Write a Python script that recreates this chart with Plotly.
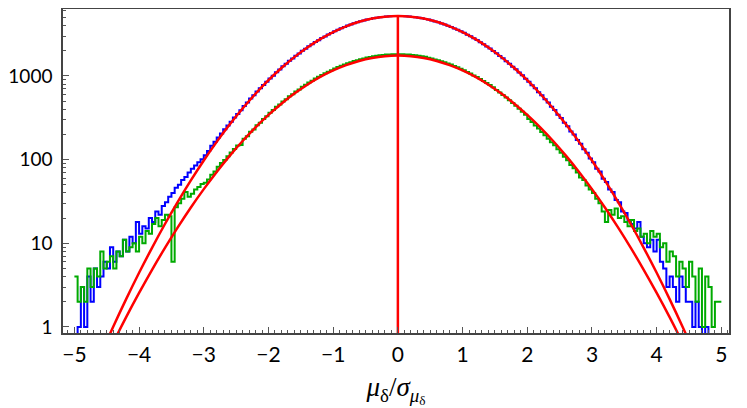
# Histogram of mu_delta / sigma_mu_delta for two samples, log y, with Gaussian fits

import numpy as np
import plotly.graph_objects as go

# %% Data
# histogram bins: 200 bins of width 0.05 from -5 to 5 (left edges)
bin_start = -5.0
bin_width = 0.05

blue_counts = [
    0, 1, 3, 1, 4, 2, 5, 3, 4, 6,
    5, 9, 6, 8, 7, 11, 8, 12, 10, 18,
    13, 16, 15, 20, 18, 24, 22, 28, 31, 36,
    40, 46, 50, 57, 62, 70, 78, 85, 93, 101,
    113, 127, 146, 163, 184, 205, 230, 256, 284, 318,
    352, 390, 436, 481, 536, 588, 650, 712, 780, 855,
    935, 1008, 1110, 1190, 1302, 1395, 1515, 1618, 1746, 1860,
    1995, 2118, 2265, 2390, 2545, 2676, 2835, 2968, 3130, 3262,
    3425, 3558, 3716, 3846, 3998, 4118, 4262, 4371, 4503, 4598,
    4715, 4796, 4895, 4958, 5040, 5080, 5138, 5158, 5195, 5206,
    5194, 5203, 5158, 5138, 5079, 5036, 4957, 4893, 4796, 4712,
    4610, 4488, 4384, 4247, 4130, 3984, 3857, 3701, 3570, 3410,
    3275, 3114, 2980, 2819, 2687, 2530, 2400, 2250, 2127, 1983,
    1868, 1733, 1626, 1500, 1403, 1288, 1199, 1096, 1017, 923,
    854, 772, 712, 640, 588, 525, 482, 427, 391, 344,
    314, 275, 251, 217, 199, 171, 155, 133, 121, 103,
    93, 78, 72, 59, 54, 44, 41, 33, 31, 24,
    23, 19, 17, 15, 18, 12, 10, 9, 11, 8,
    11, 6, 5, 3, 4, 3, 2, 4, 3, 2,
    2, 1, 2, 1, 0, 1, 0, 0, 0, 0,
]

green_counts = [
    4, 2, 3, 2, 5, 3, 5, 4, 8, 5,
    6, 7, 5, 8, 7, 11, 8, 9, 10, 8,
    12, 10, 14, 13, 17, 20, 16, 19, 22, 21,
    6, 27, 30, 34, 41, 36, 39, 44, 47, 51,
    53, 58, 66, 72, 82, 91, 99, 110, 122, 134,
    147, 150, 178, 190, 216, 229, 258, 275, 306, 330,
    362, 392, 428, 456, 495, 528, 570, 606, 650, 690,
    742, 785, 836, 878, 930, 975, 1028, 1074, 1126, 1172,
    1230, 1275, 1328, 1370, 1418, 1460, 1506, 1542, 1585, 1617,
    1662, 1688, 1722, 1740, 1768, 1780, 1802, 1806, 1818, 1820,
    1816, 1822, 1804, 1800, 1776, 1770, 1742, 1722, 1690, 1655,
    1612, 1572, 1540, 1494, 1458, 1408, 1368, 1318, 1272, 1222,
    1166, 1112, 1068, 1014, 968, 918, 872, 825, 778, 734,
    678, 634, 590, 553, 512, 476, 440, 406, 374, 344,
    306, 282, 256, 236, 214, 196, 178, 161, 148, 133,
    121, 108, 98, 86, 79, 70, 61, 57, 49, 44,
    40, 34, 30, 24, 18, 25, 22, 26, 20, 21,
    18, 16, 19, 14, 15, 12, 13, 10, 14, 12,
    13, 9, 10, 6, 8, 7, 4, 6, 5, 3,
    6, 4, 2, 5, 1, 4, 3, 1, 2, 2,
]

# gaussian fits
fit_x = [-4.6, -4.4, -4.2, -4.0, -3.8, -3.6, -3.4, -3.2, -3.0, -2.8, -2.6, -2.4,
         -2.2, -2.0, -1.8, -1.6, -1.4, -1.2, -1.0, -0.8, -0.6, -0.4, -0.2, 0.0,
         0.2, 0.4, 0.6, 0.8, 1.0, 1.2, 1.4, 1.6, 1.8, 2.0, 2.2, 2.4,
         2.6, 2.8, 3.0, 3.2, 3.4, 3.6, 3.8, 4.0, 4.2, 4.4, 4.6]
fit_blue = [0.454, 1.006, 2.15, 4.44, 8.83, 17.0, 31.5, 56.4, 97.7, 163, 262.5, 408,
            613, 889, 1243, 1679, 2188, 2753, 3344, 3919, 4436, 4845, 5109, 5200,
            5109, 4845, 4436, 3919, 3344, 2753, 2188, 1679, 1243, 889, 613, 408,
            262.5, 163, 97.7, 56.4, 31.5, 17.0, 8.83, 4.44, 2.15, 1.006, 0.454]
fit_green = [0.311, 0.648, 1.31, 2.55, 4.82, 8.82, 15.6, 26.8, 44.4, 71.3, 110.8, 167,
             243, 342, 466, 615, 786, 972, 1164, 1348, 1511, 1639, 1722, 1750,
             1722, 1639, 1511, 1348, 1164, 972, 786, 615, 466, 342, 243, 167,
             110.8, 71.3, 44.4, 26.8, 15.6, 8.82, 4.82, 2.55, 1.31, 0.648, 0.311]

# %% Plot
def step_xy(counts):
    counts = np.array(counts, dtype=float)
    edges = bin_start + bin_width * np.arange(len(counts) + 1)
    # empty bins drop below the axis floor
    y = np.where(counts > 0, counts, 0.3)
    y = np.append(y, y[-1])
    return edges, y

fig = go.Figure()

bx, by = step_xy(blue_counts)
fig.add_trace(go.Scatter(x=bx, y=by, mode="lines", line=dict(color="#0000ff", width=2, shape="hv")))

gx, gy = step_xy(green_counts)
fig.add_trace(go.Scatter(x=gx, y=gy, mode="lines", line=dict(color="#00aa00", width=2, shape="hv")))

fig.add_trace(go.Scatter(x=fit_x, y=fit_blue, mode="lines", line=dict(color="#ff0000", width=2.5, shape="spline")))
fig.add_trace(go.Scatter(x=fit_x, y=fit_green, mode="lines", line=dict(color="#ff0000", width=2.5, shape="spline")))
fig.add_trace(go.Scatter(x=[0, 0], y=[0.3, max(fit_blue)], mode="lines", line=dict(color="#ff0000", width=2.5)))

# page body adds an 8px offset, margins compensate for it
fig.update_layout(
    width=747, height=408,
    margin={"l": 55, "r": 26, "t": 1, "b": 83},
    paper_bgcolor="white", plot_bgcolor="white",
    showlegend=False,
    font=dict(family="Lato", size=21, color="black"),
)

fig.update_xaxes(
    range=[-5.176, 5.118], automargin=False,
    tickmode="linear", tick0=0, dtick=1,
    ticks="inside", ticklen=6, tickcolor="#555", ticklabelstandoff=2,
    minor=dict(ticks="inside", dtick=0.1, ticklen=3, tickcolor="#555"),
    showline=True, linecolor="#444", linewidth=1.5, mirror=True,
    showgrid=False, zeroline=False,
    title=dict(text="<i>μ</i><sub>δ</sub>/<i>σ</i><sub><i>μ</i><sub>δ</sub></sub>",
               font=dict(family="Liberation Serif", size=27), standoff=12),
)
fig.update_yaxes(
    type="log", range=[-0.072, 3.80], automargin=False,
    tickvals=[1, 10, 100, 1000], tickfont=dict(size=19),
    ticks="inside", ticklen=6, tickcolor="#555", ticklabelstandoff=5,
    minor=dict(ticks="inside", ticklen=3, tickcolor="#555",
               tickvals=[v * m for v in [1, 10, 100, 1000] for m in range(2, 10)]),
    showline=True, linecolor="#444", linewidth=1.5, mirror=True,
    showgrid=False, zeroline=False,
)

fig.write_html("out.html")
